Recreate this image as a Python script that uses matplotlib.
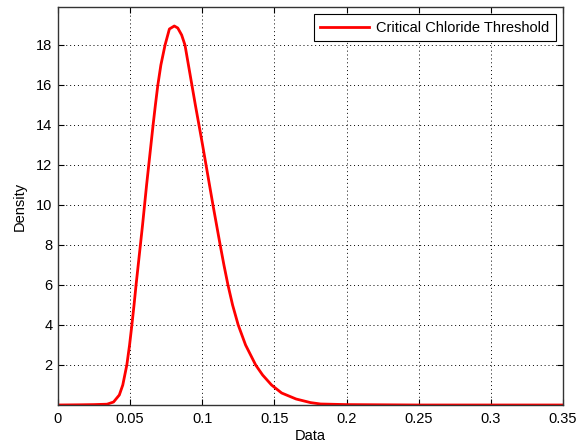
import matplotlib
matplotlib.use("Agg")
import matplotlib.pyplot as plt

plt.rcParams['font.family'] = ['Liberation Sans', 'DejaVu Sans']

x_data = [0.0, 0.015, 0.025, 0.0340, 0.0385, 0.0425, 0.0449, 0.0477, 0.0496, 0.0512,
          0.0527, 0.0541, 0.0556, 0.0571, 0.0586, 0.0600, 0.0614, 0.0629, 0.0644,
          0.0659, 0.0675, 0.0692, 0.0713, 0.0742, 0.0772, 0.0806, 0.0830, 0.0857,
          0.0880, 0.0904, 0.0928, 0.0952, 0.0977, 0.1002, 0.1026, 0.1050, 0.1074,
          0.1099, 0.1124, 0.1150, 0.1178, 0.1210, 0.1249, 0.1300, 0.1370, 0.1418,
          0.1480, 0.1550, 0.1650, 0.1750, 0.1820, 0.2000, 0.2500, 0.3000, 0.3500]
density = [0.0, 0.01, 0.02, 0.04, 0.15, 0.5, 1.0, 2.0, 3.0, 4.0,
           5.0, 6.0, 7.0, 8.0, 9.0, 10.0, 11.0, 12.0, 13.0,
           14.0, 15.0, 16.0, 17.0, 18.0, 18.8, 18.95, 18.85, 18.5,
           18.0, 17.0, 16.0, 15.0, 14.0, 13.0, 12.0, 11.0, 10.0,
           9.0, 8.0, 7.0, 6.0, 5.0, 4.0, 3.0, 2.0, 1.5,
           1.0, 0.6, 0.3, 0.12, 0.05, 0.02, 0.0, 0.0, 0.0]
x_ticks = [0, 0.05, 0.1, 0.15, 0.2, 0.25, 0.3, 0.35]
x_tick_labels = ['0', '0.05', '0.1', '0.15', '0.2', '0.25', '0.3', '0.35']
y_ticks = [2, 4, 6, 8, 10, 12, 14, 16, 18]
series_label = 'Critical Chloride Threshold'

fig = plt.figure(figsize=(5.81, 4.47), dpi=100)
ax = fig.add_axes([58/581, 1-405/447, (563-58)/581, (405-7)/447])
ax.plot(x_data, density, color='red', lw=2, label=series_label)
ax.set_xlim(0, 0.35)
ax.set_ylim(0, 19.9)
ax.set_xticks(x_ticks)
ax.set_xticklabels(x_tick_labels)
ax.set_yticks(y_ticks)
ax.tick_params(direction='in', top=True, right=True, labelsize=10.5, length=4,
               width=0.8, colors='black')
ax.tick_params(axis='x', pad=5)
ax.tick_params(axis='y', pad=4)
ax.grid(True, color='black', linestyle=(0, (1, 3)), linewidth=0.7)
for s in ax.spines.values():
    s.set_linewidth(1.0)
    s.set_color('#333333')
ax.set_xlabel('Data', fontsize=10.5, labelpad=2)
ax.set_ylabel('Density', fontsize=10.5, labelpad=7)
leg = ax.legend(loc='upper right', fontsize=10.5, fancybox=False, framealpha=1,
                edgecolor='black', borderaxespad=0.5, handlelength=3.3,
                borderpad=0.45, handletextpad=0.5)
leg.get_frame().set_linewidth(0.8)
fig.savefig('out.png', dpi=100)
